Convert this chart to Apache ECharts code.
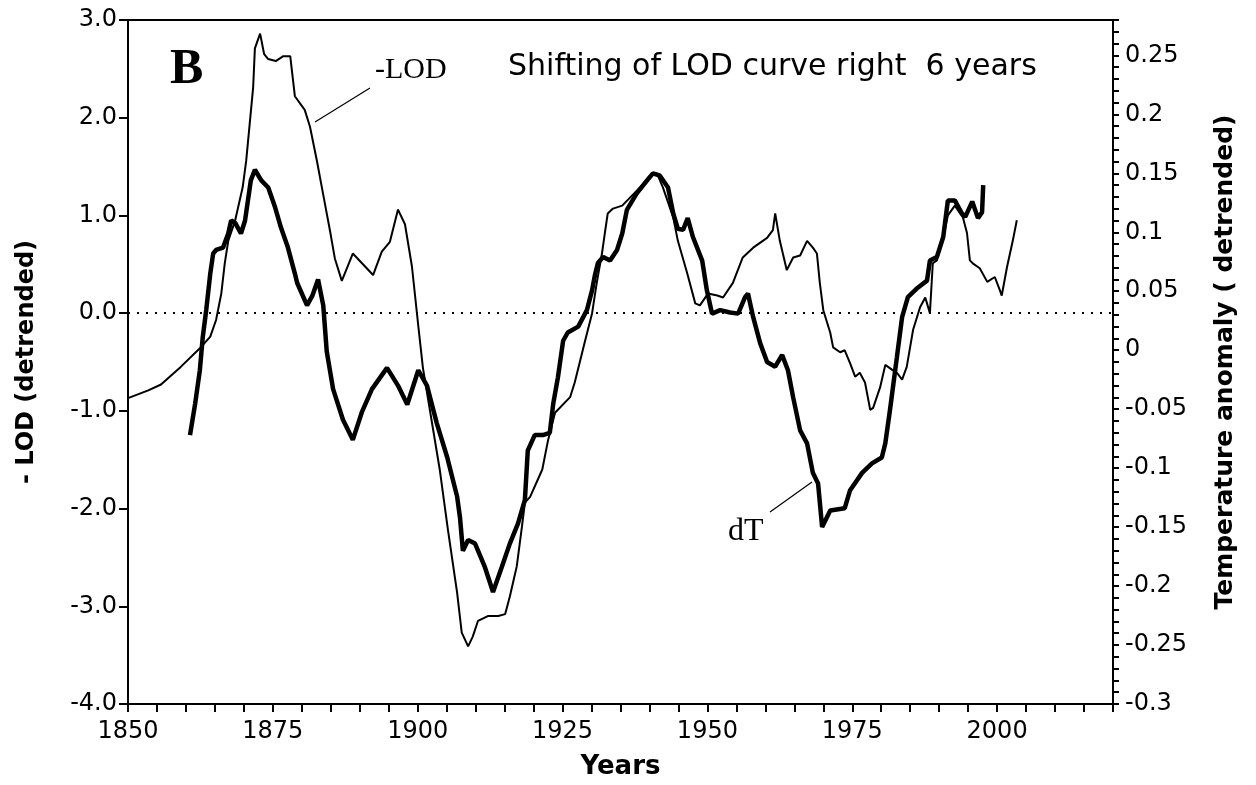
<!DOCTYPE html>
<html>
<head>
<meta charset="utf-8">
<script src="https://cdn.jsdelivr.net/npm/echarts@6/dist/echarts.min.js"></script>
<style>
  html, body { margin: 0; padding: 0; background: #fff; }
  #chart { width: 1256px; height: 785px; }
</style>
</head>
<body>
<div id="chart"></div>
<script>
// -LOD (detrended), left axis, shifted 6 years
const lodYears = [1850.0, 1853.5, 1855.7, 1857.2, 1859.1, 1862.4, 1864.2, 1865.2, 1866.1, 1866.7, 1867.3, 1868.5, 1869.8, 1870.4, 1871.6, 1871.9, 1872.8, 1873.5, 1874.2, 1875.5, 1876.8, 1878.0, 1878.8, 1880.5, 1881.4, 1882.6, 1883.7, 1884.9, 1885.7, 1886.9, 1888.8, 1892.3, 1893.8, 1895.2, 1896.6, 1897.8, 1899.0, 1900.1, 1900.9, 1902.6, 1903.8, 1905.2, 1906.8, 1907.6, 1908.7, 1909.5, 1910.4, 1912.1, 1913.9, 1915.1, 1915.9, 1917.1, 1918.0, 1918.5, 1919.4, 1921.5, 1922.5, 1923.7, 1926.3, 1927.1, 1928.9, 1930.1, 1930.9, 1931.8, 1932.3, 1932.8, 1933.7, 1935.3, 1936.6, 1938.4, 1940.1, 1941.3, 1942.3, 1944.1, 1944.9, 1946.5, 1947.9, 1948.7, 1950.1, 1951.7, 1952.7, 1954.4, 1956.1, 1957.9, 1960.3, 1961.3, 1961.7, 1962.5, 1963.7, 1964.8, 1966.0, 1967.2, 1968.2, 1968.9, 1969.4, 1970.0, 1971.2, 1971.7, 1972.9, 1973.7, 1974.6, 1975.5, 1976.3, 1977.2, 1978.1, 1978.6, 1979.8, 1980.7, 1981.9, 1982.7, 1983.6, 1984.4, 1985.5, 1986.7, 1987.6, 1988.4, 1988.9, 1989.6, 1990.7, 1991.5, 1992.7, 1994.1, 1994.8, 1995.3, 1995.8, 1997.0, 1998.3, 1999.6, 2000.5, 2000.8, 2001.7, 2002.7, 2003.4];
const lodValues = [-0.87, -0.79, -0.73, -0.65, -0.55, -0.36, -0.24, -0.07, 0.20, 0.51, 0.74, 0.95, 1.29, 1.56, 2.31, 2.71, 2.86, 2.65, 2.60, 2.58, 2.63, 2.63, 2.22, 2.08, 1.91, 1.56, 1.21, 0.83, 0.56, 0.33, 0.61, 0.39, 0.63, 0.73, 1.06, 0.91, 0.48, -0.13, -0.56, -1.17, -1.60, -2.21, -2.86, -3.27, -3.41, -3.31, -3.15, -3.10, -3.10, -3.08, -2.90, -2.59, -2.18, -1.94, -1.88, -1.60, -1.30, -1.02, -0.86, -0.71, -0.28, 0.00, 0.31, 0.61, 0.82, 1.02, 1.07, 1.10, 1.18, 1.29, 1.41, 1.43, 1.29, 0.98, 0.74, 0.41, 0.10, 0.08, 0.20, 0.18, 0.16, 0.31, 0.57, 0.67, 0.77, 0.85, 1.02, 0.74, 0.44, 0.57, 0.59, 0.74, 0.67, 0.61, 0.31, 0.03, -0.20, -0.35, -0.40, -0.38, -0.51, -0.65, -0.61, -0.71, -0.99, -0.97, -0.76, -0.53, -0.58, -0.61, -0.68, -0.55, -0.17, 0.06, 0.16, 0.00, 0.51, 0.54, 0.78, 1.00, 1.10, 0.98, 0.82, 0.54, 0.51, 0.46, 0.32, 0.37, 0.23, 0.18, 0.47, 0.74, 0.95];

// dT temperature anomaly (detrended), right axis
const dtYears = [1860.7, 1861.6, 1862.4, 1862.9, 1863.5, 1864.2, 1864.7, 1865.2, 1866.4, 1867.3, 1867.8, 1868.5, 1869.5, 1870.2, 1871.2, 1871.9, 1873.0, 1874.2, 1875.4, 1876.4, 1877.6, 1878.8, 1879.2, 1880.9, 1881.8, 1882.8, 1883.7, 1884.3, 1885.4, 1887.1, 1888.8, 1890.4, 1892.1, 1894.7, 1896.6, 1898.2, 1900.1, 1901.6, 1903.3, 1905.1, 1906.8, 1907.3, 1907.8, 1908.7, 1909.9, 1911.6, 1913.0, 1914.5, 1915.9, 1917.3, 1918.5, 1919.0, 1920.2, 1921.6, 1922.8, 1923.4, 1924.2, 1925.1, 1925.9, 1927.7, 1929.2, 1930.1, 1930.6, 1931.1, 1932.0, 1933.2, 1934.4, 1935.3, 1936.1, 1937.8, 1939.6, 1940.6, 1941.8, 1943.2, 1944.1, 1944.9, 1945.8, 1946.6, 1947.5, 1949.1, 1949.9, 1950.8, 1952.2, 1953.9, 1955.3, 1956.5, 1957.0, 1957.9, 1959.1, 1960.3, 1961.7, 1962.9, 1963.9, 1964.8, 1966.0, 1967.2, 1968.2, 1969.1, 1969.8, 1971.2, 1973.7, 1974.6, 1976.7, 1978.4, 1980.1, 1980.7, 1981.5, 1982.7, 1983.6, 1984.6, 1986.3, 1987.9, 1988.4, 1989.6, 1990.7, 1991.5, 1992.7, 1993.9, 1994.5, 1995.7, 1996.7, 1997.4, 1997.6];
const dtValues = [-0.072, -0.045, -0.017, 0.011, 0.034, 0.065, 0.082, 0.085, 0.087, 0.099, 0.110, 0.108, 0.099, 0.110, 0.144, 0.153, 0.144, 0.138, 0.121, 0.104, 0.087, 0.065, 0.057, 0.038, 0.046, 0.060, 0.038, -0.001, -0.033, -0.059, -0.076, -0.052, -0.033, -0.015, -0.030, -0.046, -0.017, -0.030, -0.062, -0.091, -0.124, -0.142, -0.170, -0.161, -0.164, -0.184, -0.205, -0.184, -0.164, -0.147, -0.127, -0.085, -0.072, -0.072, -0.070, -0.045, -0.023, 0.008, 0.015, 0.020, 0.034, 0.051, 0.064, 0.074, 0.079, 0.076, 0.085, 0.099, 0.119, 0.133, 0.144, 0.150, 0.148, 0.138, 0.116, 0.103, 0.102, 0.112, 0.096, 0.076, 0.051, 0.031, 0.034, 0.032, 0.031, 0.045, 0.048, 0.028, 0.006, -0.010, -0.014, -0.004, -0.017, -0.040, -0.068, -0.079, -0.104, -0.113, -0.150, -0.136, -0.134, -0.119, -0.104, -0.096, -0.091, -0.079, -0.051, -0.006, 0.028, 0.045, 0.053, 0.059, 0.076, 0.079, 0.096, 0.127, 0.127, 0.116, 0.113, 0.126, 0.112, 0.117, 0.140];

const lodTicks = [-4, -3, -2, -1, 0, 1, 2, 3];

const FONT = 'DejaVu Sans';
const chart = echarts.init(document.getElementById('chart'), null, { renderer: 'canvas' });

const option = {
  animation: false,
  backgroundColor: '#fff',
  grid: {
    left: 128, right: 143, top: 20, bottom: 81,
    show: true, borderColor: '#000', borderWidth: 2, backgroundColor: 'transparent'
  },
  xAxis: {
    type: 'value',
    min: 1850, max: 2020, interval: 5,
    name: 'Years',
    nameLocation: 'middle',
    nameGap: 50,
    nameTextStyle: { fontFamily: FONT, fontSize: 26, fontWeight: 'bold', color: '#000' },
    axisLine: { onZero: false, lineStyle: { color: '#000', width: 2 } },
    axisTick: { length: 8, lineStyle: { color: '#000', width: 2 } },
    axisLabel: {
      margin: 16, fontFamily: FONT, fontSize: 24, color: '#000',
      formatter: v => (Math.round(v) % 25 === 0 ? String(Math.round(v)) : '')
    },
    splitLine: { show: false }
  },
  yAxis: [
    {
      type: 'value',
      min: -4, max: 3, interval: 1,
      position: 'left',
      name: '- LOD (detrended)',
      nameLocation: 'middle',
      nameGap: 89,
      nameRotate: 90,
      nameTextStyle: { fontFamily: FONT, fontSize: 24, fontWeight: 'bold', color: '#000' },
      axisLine: { show: true, onZero: false, lineStyle: { color: '#000', width: 2 } },
      axisTick: { show: true, length: 9, lineStyle: { color: '#000', width: 2 } },
      axisLabel: {
        margin: 11, fontFamily: FONT, fontSize: 24, color: '#000',
        formatter: v => (lodTicks.includes(Math.round(v)) ? v.toFixed(1) : '')
      },
      splitLine: { show: false }
    },
    {
      type: 'value',
      min: -0.3, max: 0.28, interval: 0.01,
      position: 'right',
      name: 'Temperature anomaly ( detrended)',
      nameLocation: 'middle',
      nameGap: 100,
      nameRotate: 90,
      nameTextStyle: { fontFamily: FONT, fontSize: 25, fontWeight: 'bold', color: '#000' },
      axisLine: { show: true, onZero: false, lineStyle: { color: '#000', width: 2 } },
      axisTick: { show: true, length: 6, lineStyle: { color: '#000', width: 2 } },
      axisLabel: {
        margin: 12, fontFamily: FONT, fontSize: 24, color: '#000',
        formatter: v => {
          const k = Math.round(v * 100);
          return k % 5 === 0 ? String(k / 100) : '';
        }
      },
      splitLine: { show: false }
    }
  ],
  series: [
    {
      name: '-LOD',
      type: 'line',
      yAxisIndex: 0,
      data: lodYears.map((y, i) => [y, lodValues[i]]),
      showSymbol: false,
      symbol: 'none',
      lineStyle: { color: '#000', width: 2 },
      markLine: {
        silent: true,
        symbol: 'none',
        label: { show: false },
        lineStyle: { color: '#000', width: 2, type: [2, 7] },
        data: [{ yAxis: 0 }]
      }
    },
    {
      name: 'dT',
      type: 'line',
      yAxisIndex: 1,
      data: dtYears.map((y, i) => [y, dtValues[i]]),
      showSymbol: false,
      symbol: 'none',
      lineStyle: { color: '#000', width: 4.5 }
    }
  ],
  graphic: [
    { type: 'text', left: 170, top: 45,
      style: { text: 'B', font: 'bold 50px "Liberation Serif"', fill: '#000' } },
    { type: 'text', left: 508, top: 52,
      style: { text: 'Shifting of LOD curve right  6 years', font: '30px "DejaVu Sans"', fill: '#000' } },
    { type: 'text', left: 375, top: 55,
      style: { text: '-LOD', font: '30px "Liberation Serif"', fill: '#000' } },
    { type: 'line', shape: { x1: 370, y1: 88, x2: 315, y2: 122 },
      style: { stroke: '#000', lineWidth: 1.2 } },
    { type: 'text', left: 728, top: 516,
      style: { text: 'dT', font: '32px "Liberation Serif"', fill: '#000' } },
    { type: 'line', shape: { x1: 770, y1: 512, x2: 812, y2: 482 },
      style: { stroke: '#000', lineWidth: 1.2 } }
  ]
};

chart.setOption(option);
</script>
</body>
</html>
